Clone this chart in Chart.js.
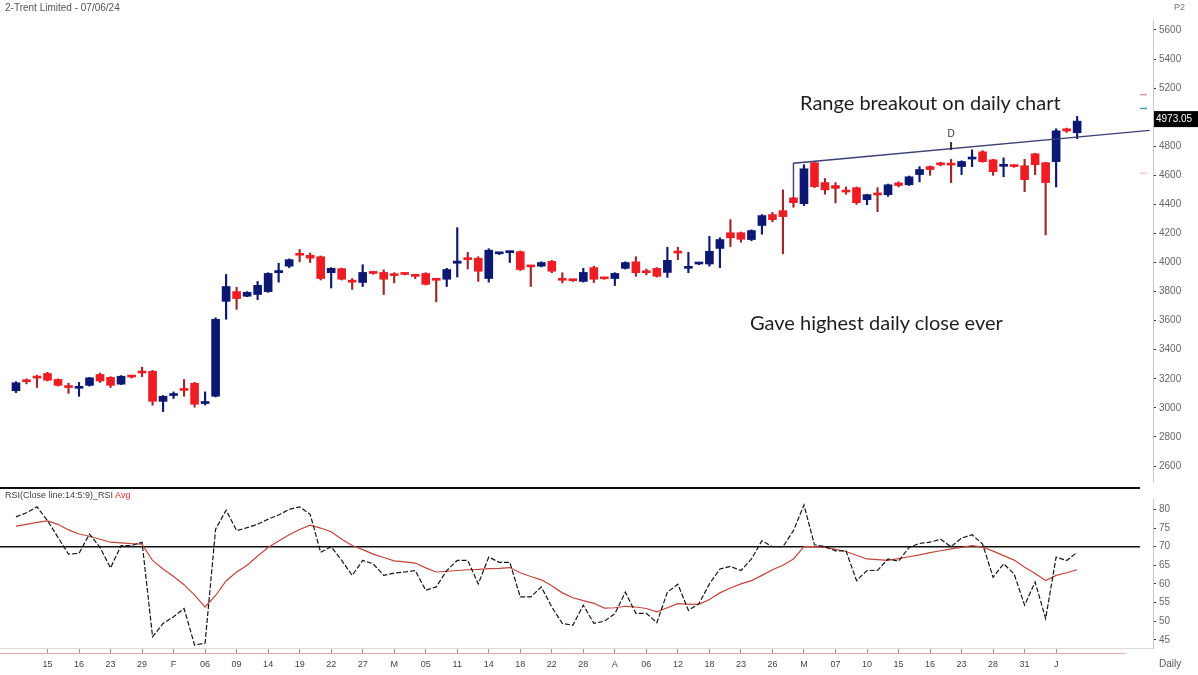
<!DOCTYPE html>
<html>
<head>
<meta charset="utf-8">
<script src="https://cdn.jsdelivr.net/npm/chart.js@4.4.1/dist/chart.umd.min.js"></script>
<style>
  html, body { margin: 0; padding: 0; background: #fff; }
  #wrap { position: relative; width: 1198px; height: 675px; overflow: hidden; font-family: 'Liberation Sans', Arial, sans-serif; }
  canvas { position: absolute; left: 0; }
  #priceChart { top: 0; }
  #rsiChart { top: 490px; }
  .txt { position: absolute; white-space: nowrap; line-height: 1; }
  .note { font-family: Lato, 'Open Sans', sans-serif; font-size: 20px; color: #1e1e1e; }
</style>
</head>
<body>
<div id="wrap">
  <canvas id="priceChart" width="1198" height="490"></canvas>
  <canvas id="rsiChart" width="1198" height="185"></canvas>
  <div class="txt" style="left:5px; top:3px; font-size:10px; color:#555;">2-Trent Limited - 07/06/24</div>
  <div class="txt" style="left:1174px; top:3px; font-size:9px; color:#777;">P2</div>
  <div class="txt" style="left:5px; top:491px; font-size:9px; color:#444;">RSI(Close line:14:5:9)_RSI <span style="color:#e0302a;">Avg</span></div>
  <div class="txt" style="left:1159px; top:659px; font-size:10px; color:#555;">Daily</div>
  <div class="txt note" style="left:800px; top:92px;">Range breakout on daily chart</div>
  <div class="txt note" style="left:750px; top:312px;">Gave highest daily close ever</div>
</div>
<script>
// daily candles, 10 Jan 2024 -> 07 Jun 2024
const open = [3118, 3190, 3212, 3237, 3196, 3145, 3135, 3155, 3230, 3210,
  3163, 3218, 3248, 3252, 3045, 3085, 3125, 3170, 3030, 3080,
  3733, 3800, 3768, 3780, 3800, 3930, 3975, 4055, 4050, 4040,
  3930, 3958, 3875, 3863, 3935, 3932, 3920, 3925, 3910, 3925,
  3882, 3885, 3995, 4025, 4030, 3890, 4060, 4068, 4075, 3975,
  3975, 4008, 3880, 3880, 3870, 3965, 3890, 3890, 3960, 4005,
  3935, 3960, 3932, 4070, 3960, 3990, 3990, 4097, 4205, 4205,
  4158, 4255, 4330, 4357, 4445, 4405, 4687, 4550, 4530, 4490,
  4515, 4432, 4470, 4467, 4548, 4535, 4605, 4660, 4682, 4675,
  4660, 4712, 4762, 4707, 4662, 4670, 4666, 4748, 4687, 4694,
  4920, 4893];
const high = [3180, 3200, 3225, 3245, 3200, 3170, 3175, 3210, 3240, 3215,
  3222, 3222, 3280, 3258, 3085, 3110, 3195, 3175, 3110, 3620,
  3918, 3830, 3800, 3870, 3930, 3995, 4025, 4090, 4065, 4045,
  3965, 3962, 3890, 3985, 3940, 3950, 3930, 3930, 3915, 3930,
  3885, 3960, 4240, 4070, 4040, 4095, 4070, 4078, 4080, 3980,
  4005, 4015, 3930, 3885, 3960, 3975, 3892, 3930, 4005, 4040,
  3955, 3965, 4105, 4105, 4070, 4000, 4180, 4170, 4295, 4210,
  4225, 4330, 4345, 4500, 4448, 4673, 4695, 4578, 4550, 4520,
  4520, 4470, 4515, 4540, 4555, 4595, 4660, 4665, 4690, 4710,
  4700, 4775, 4770, 4710, 4720, 4672, 4710, 4752, 4690, 4920,
  4925, 5005];
const low = [3105, 3165, 3140, 3185, 3150, 3100, 3080, 3150, 3175, 3140,
  3160, 3205, 3215, 3018, 2975, 3065, 3080, 3005, 3020, 3075,
  3610, 3678, 3765, 3745, 3795, 3865, 3965, 4005, 4000, 3880,
  3825, 3880, 3815, 3835, 3920, 3780, 3860, 3915, 3890, 3845,
  3730, 3835, 3900, 3955, 3870, 3865, 4055, 4000, 3945, 3835,
  3970, 3930, 3860, 3870, 3865, 3862, 3885, 3842, 3955, 3905,
  3915, 3900, 3898, 4020, 3930, 3985, 3975, 3965, 4110, 4140,
  4150, 4195, 4280, 4060, 4380, 4392, 4515, 4470, 4410, 4470,
  4400, 4398, 4350, 4455, 4520, 4530, 4555, 4600, 4665, 4550,
  4605, 4660, 4690, 4600, 4590, 4655, 4488, 4605, 4190, 4520,
  4895, 4852];
const close = [3173, 3180, 3205, 3190, 3155, 3140, 3140, 3207, 3185, 3155,
  3218, 3212, 3240, 3045, 3080, 3095, 3120, 3025, 3035, 3609,
  3835, 3752, 3795, 3843, 3925, 3945, 4020, 4050, 4030, 3890,
  3960, 3885, 3865, 3932, 3925, 3885, 3910, 3918, 3905, 3850,
  3878, 3952, 4010, 4020, 3940, 4085, 4065, 4075, 3952, 3970,
  4000, 3940, 3878, 3875, 3932, 3885, 3888, 3925, 4000, 3930,
  3930, 3905, 4015, 4065, 3970, 3995, 4077, 4158, 4170, 4160,
  4220, 4323, 4295, 4316, 4412, 4645, 4522, 4500, 4510, 4485,
  4412, 4467, 4465, 4535, 4530, 4590, 4640, 4640, 4672, 4670,
  4695, 4715, 4694, 4625, 4667, 4660, 4570, 4673, 4550, 4906,
  4905, 4973.05];

const rsi = [78, 79.1, 80.7, 77, 72.5, 68, 68.2, 73.4, 69.8, 64.3,
  70.3, 70.3, 71.2, 45.8, 49.4, 51.2, 53.4, 43.6, 44.1, 74.7,
  79.8, 74.3, 75.1, 76, 77.4, 78.5, 80, 80.7, 78.7, 68.5,
  70, 66.3, 62.3, 66.3, 65.4, 62.3, 62.9, 63.2, 63.6, 58.3,
  59.2, 63.6, 66.3, 66.3, 60, 67.2, 65.8, 65.8, 56.5, 56.5,
  59.2, 53.8, 49.4, 48.9, 54.3, 49.4, 50, 52, 57.8, 52.1,
  52.1, 49.6, 57.8, 59.9, 52.9, 54.7, 60, 64, 64.7, 63.6,
  66.7, 71.6, 70, 70, 74.3, 81.2, 70.5, 70, 68.9, 68.9,
  60.9, 63.6, 63.6, 66.7, 66.1, 69.8, 70.9, 71.2, 72, 70,
  72.3, 73.2, 70.7, 61.8, 65.4, 62.7, 54.3, 60.5, 50.7, 67.2,
  66.3, 68.5];
const rsiAvg = [75.5, 76, 76.5, 76.9, 76, 74.5, 73.4, 72.8, 72, 71.2,
  71, 70.8, 70.7, 66.3, 64, 62, 59.8, 57, 53.8, 56.9,
  60.8, 63.2, 65, 67.5, 69.8, 71.5, 73.2, 74.6, 75.8, 75,
  74, 72, 70.3, 69.2, 68, 67.1, 66.2, 65.9, 65.6, 64.3,
  63.2, 63.4, 63.6, 63.8, 63.9, 64.1, 64.2, 64.4, 63, 62,
  61.1, 59.5, 57.6, 56.3, 55.5, 54.8, 53.5, 53.6, 54, 53.8,
  53.4, 52.5, 53.6, 54.7, 54.6, 54.5, 55.8, 57.6, 58.9, 60,
  60.9, 62.3, 63.8, 65, 66.7, 70, 70, 69.8, 69.3, 68.7,
  67.7, 66.7, 66.5, 66.3, 66.8, 67.3, 67.8, 68.4, 68.9, 69.4,
  69.8, 70.3, 69.9, 68.8, 67.6, 66.4, 64.5, 62.8, 60.9, 62.3,
  63, 63.8];

// x axis ticks (bar index) and their labels
const tickBars = [3, 6, 9, 12, 15, 18, 21, 24, 27, 30, 33, 36, 39, 42, 45, 48, 51,
  54, 57, 60, 63, 66, 69, 72, 75, 78, 81, 84, 87, 90, 93, 96, 99];
const dateLabels = ['15', '16', '23', '29', 'F', '06', '09', '14', '19', '22', '27', 'M',
  '05', '11', '14', '18', '22', '28', 'A', '06', '12', '18', '23', '26', 'M',
  '07', '10', '15', '16', '23', '28', '31', 'J'];

const priceTicks = [2600, 2800, 3000, 3200, 3400, 3600, 3800, 4000, 4200,
  4400, 4600, 4800, 5000, 5200, 5400, 5600];
const rsiTicks = [45, 50, 55, 60, 65, 70, 75, 80];

// trendline drawn on the chart (bar index, price)
const trendX = [74, 74, 107.9];
const trendY = [4440, 4683, 4909];

const UP = '#0c1872', DOWN = '#ee1d23', DOWN_WICK = '#9a2a2a';
const X_MIN = -1.52, X_MAX = 108.22;
Chart.defaults.font.family = "'Liberation Sans', Arial, sans-serif";

const isUp = open.map((o, i) => close[i] >= o);

// lines and labels that sit on top of the price panel
const priceOverlay = {
  id: 'priceOverlay',
  afterDatasetsDraw(chart) {
    const { ctx, scales: { x, y } } = chart;
    ctx.save();
    // panel separator
    ctx.strokeStyle = '#111';
    ctx.lineWidth = 2;
    ctx.beginPath(); ctx.moveTo(0, 488); ctx.lineTo(1140, 488); ctx.stroke();
    // small level marks near the axis
    [[5155, '#d59ab0'], [5060, '#4b9aa8'], [4614, '#efc8d0']].forEach(([v, c]) => {
      ctx.strokeStyle = c; ctx.lineWidth = 1.5;
      ctx.beginPath(); ctx.moveTo(1140, y.getPixelForValue(v)); ctx.lineTo(1147, y.getPixelForValue(v)); ctx.stroke();
    });
    // "D" marker
    const dx = x.getPixelForValue(89);
    ctx.fillStyle = '#333';
    ctx.font = "10px 'Liberation Sans', Arial";
    ctx.textAlign = 'center';
    ctx.fillText('D', dx, 137);
    ctx.strokeStyle = '#333'; ctx.lineWidth = 2;
    ctx.beginPath(); ctx.moveTo(dx, 142); ctx.lineTo(dx, 150); ctx.stroke();
    // last price tag (covers the 5000 label)
    const last = close[close.length - 1];
    const py = y.getPixelForValue(last);
    ctx.fillStyle = '#000';
    ctx.fillRect(1154, py - 10, 44, 16);
    ctx.fillStyle = '#fff';
    ctx.font = "10px 'Liberation Sans', Arial";
    ctx.textAlign = 'left';
    ctx.textBaseline = 'middle';
    ctx.fillText(last.toFixed(2), 1156, py - 1.5);
    ctx.restore();
  }
};

new Chart(document.getElementById('priceChart'), {
  type: 'bar',
  data: {
    datasets: [
      {
        label: 'trend',
        type: 'line',
        data: trendX.map((v, i) => ({ x: v, y: trendY[i] })),
        borderColor: '#3d4277',
        borderWidth: 1.4,
        pointRadius: 0,
        order: 0
      },
      {
        label: 'body',
        data: open.map((o, i) => ({ x: i, y: [o, close[i]] })),
        backgroundColor: isUp.map(u => (u ? UP : DOWN)),
        barThickness: 8,
        minBarLength: 2,
        grouped: false,
        order: 1
      },
      {
        label: 'wick',
        data: low.map((l, i) => ({ x: i, y: [l, high[i]] })),
        backgroundColor: isUp.map(u => (u ? UP : DOWN_WICK)),
        barThickness: 1.5,
        grouped: false,
        order: 2
      }
    ]
  },
  options: {
    responsive: false,
    animation: false,
    layout: { padding: { top: 20, bottom: 8, left: 0, right: 0 } },
    plugins: { legend: { display: false }, tooltip: { enabled: false } },
    scales: {
      x: { type: 'linear', min: X_MIN, max: X_MAX, offset: false, display: false },
      y: {
        position: 'right',
        min: 2497,
        max: 5668.6,
        afterFit: s => { s.width = 45; },
        afterBuildTicks: s => { s.ticks = priceTicks.map(v => ({ value: v })); },
        ticks: { callback: v => String(v), color: '#666', font: { size: 10 }, padding: 3 },
        grid: { drawOnChartArea: false, tickLength: 3, color: '#333' },
        border: { color: '#c8c8c8' }
      }
    }
  },
  plugins: [priceOverlay]
});

// 70 level and the faint lines under the RSI panel
const rsiOverlay = {
  id: 'rsiOverlay',
  beforeDatasetsDraw(chart) {
    const { ctx, chartArea, scales: { y } } = chart;
    ctx.save();
    ctx.strokeStyle = '#111';
    ctx.lineWidth = 1.5;
    const y70 = y.getPixelForValue(70);
    ctx.beginPath(); ctx.moveTo(0, y70); ctx.lineTo(1140, y70); ctx.stroke();
    ctx.strokeStyle = '#f2a7a7';
    ctx.lineWidth = 1;
    ctx.beginPath(); ctx.moveTo(0, chartArea.bottom + 5.5); ctx.lineTo(1125, chartArea.bottom + 5.5); ctx.stroke();
    ctx.restore();
  }
};

new Chart(document.getElementById('rsiChart'), {
  type: 'line',
  data: {
    datasets: [
      {
        label: 'RSI',
        data: rsi.map((v, i) => ({ x: i, y: v })),
        borderColor: '#151515',
        borderWidth: 1.2,
        borderDash: [5, 2],
        pointRadius: 0
      },
      {
        label: 'RSI Avg',
        data: rsiAvg.map((v, i) => ({ x: i, y: v })),
        borderColor: '#c2453c',
        borderWidth: 1.2,
        pointRadius: 0
      }
    ]
  },
  options: {
    responsive: false,
    animation: false,
    layout: { padding: { top: 8, bottom: 0, left: 0, right: 0 } },
    plugins: { legend: { display: false }, tooltip: { enabled: false } },
    scales: {
      x: {
        type: 'linear',
        min: X_MIN,
        max: X_MAX,
        offset: false,
        afterFit: s => { s.height = 27; },
        afterBuildTicks: s => { s.ticks = tickBars.map(v => ({ value: v })); },
        ticks: {
          callback: (v, idx) => dateLabels[idx],
          autoSkip: false,
          maxRotation: 0,
          color: '#444',
          font: { size: 9 },
          padding: 6
        },
        grid: { drawOnChartArea: false, tickLength: 5, color: '#999' },
        border: { color: '#dcdcdc' }
      },
      y: {
        position: 'right',
        min: 42.8,
        max: 82.8,
        afterFit: s => { s.width = 45; },
        afterBuildTicks: s => { s.ticks = rsiTicks.map(v => ({ value: v })); },
        ticks: { callback: v => String(v), color: '#666', font: { size: 10 }, padding: 3 },
        grid: { drawOnChartArea: false, tickLength: 3, color: '#333' },
        border: { color: '#c8c8c8' }
      }
    }
  },
  plugins: [rsiOverlay]
});
</script>
</body>
</html>
